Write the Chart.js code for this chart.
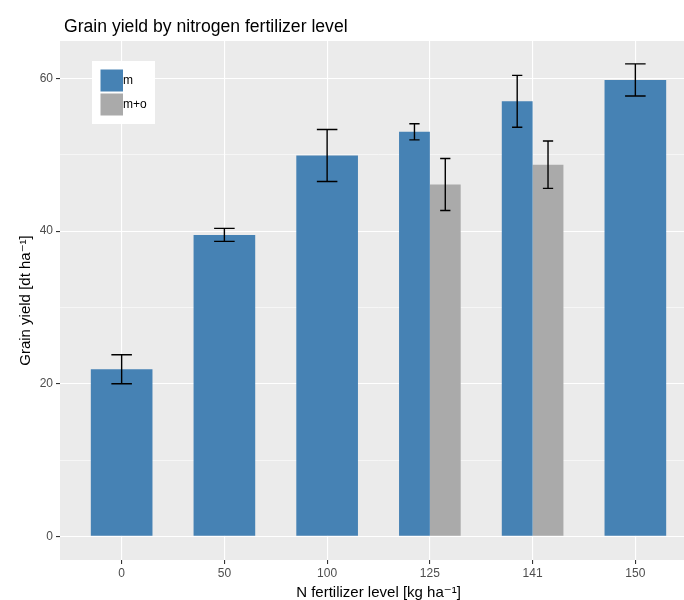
<!DOCTYPE html>
<html>
<head>
<meta charset="utf-8">
<script src="https://cdn.jsdelivr.net/npm/chart.js@4.4.0/dist/chart.umd.min.js"></script>
<style>
    body { margin: 0; background: #ffffff; }
    #wrap { width: 684px; height: 600px; overflow: hidden; }
</style>
</head>
<body>
<div id="wrap"><canvas id="yieldChart" width="700" height="600"></canvas></div>
<script>
// N levels (x categories)
const nLevels = ['0', '50', '100', '125', '141', '150'];

// mineral fertilizer only (m)
const yieldM = [21.9, 39.5, 49.9, 53.0, 57.0, 59.8];
const errM = [1.9, 0.85, 3.4, 1.05, 3.4, 2.1];

// mineral + organic (m+o)
const yieldMO = [null, null, null, 46.1, 48.7, null];
const errMO = [null, null, null, 3.4, 3.1, null];

const yTicks = [0, 10, 20, 30, 40, 50, 60];

document.addEventListener("DOMContentLoaded", function () {
    const fontFamily = "'Liberation Sans', Arial, 'DejaVu Sans', sans-serif";

    function toPoints(values) {
        return values.map((v, i) => ({ x: i, y: v }));
    }

    // grey panel behind the grid
    const panelPlugin = {
        id: 'panel',
        beforeDraw(chart) {
            const { ctx, chartArea } = chart;
            ctx.save();
            ctx.fillStyle = '#EBEBEB';
            ctx.fillRect(chartArea.left, chartArea.top, chartArea.right - chartArea.left, chartArea.bottom - chartArea.top);
            ctx.restore();
        }
    };

    // error bars drawn on top of every bar
    const errorBarPlugin = {
        id: 'errorBars',
        afterDatasetsDraw(chart) {
            const ctx = chart.ctx;
            const yScale = chart.scales.y;
            chart.data.datasets.forEach((ds, i) => {
                const meta = chart.getDatasetMeta(i);
                meta.data.forEach((bar, j) => {
                    const v = ds.data[j].y;
                    const e = ds.errors[j];
                    if (v === null || e === null) return;
                    const top = yScale.getPixelForValue(v + e);
                    const bottom = yScale.getPixelForValue(v - e);
                    const half = bar.width / 6;
                    ctx.save();
                    ctx.strokeStyle = '#000000';
                    ctx.lineWidth = 1.4;
                    ctx.beginPath();
                    ctx.moveTo(bar.x, top);
                    ctx.lineTo(bar.x, bottom);
                    ctx.moveTo(bar.x - half, top);
                    ctx.lineTo(bar.x + half, top);
                    ctx.moveTo(bar.x - half, bottom);
                    ctx.lineTo(bar.x + half, bottom);
                    ctx.stroke();
                    ctx.restore();
                });
            });
        }
    };

    // plot title and legend box inside the panel
    const decorPlugin = {
        id: 'decor',
        afterDraw(chart) {
            const { ctx, chartArea } = chart;
            const left = chartArea.left;
            const top = chartArea.top;
            ctx.save();
            ctx.fillStyle = '#000000';
            ctx.font = "17.6px " + fontFamily;
            ctx.textBaseline = 'alphabetic';
            ctx.textAlign = 'left';
            ctx.fillText('Grain yield by nitrogen fertilizer level', left + 4, 31.5);

            ctx.fillStyle = '#FFFFFF';
            ctx.fillRect(left + 32, top + 20, 63, 63);
            chart.data.datasets.forEach((ds, i) => {
                const ky = top + 28.5 + i * 24;
                ctx.fillStyle = ds.backgroundColor;
                ctx.fillRect(left + 40.5, ky, 22.5, 22);
                ctx.fillStyle = '#000000';
                ctx.font = "12px " + fontFamily;
                ctx.textBaseline = 'middle';
                ctx.fillText(ds.label, left + 63, ky + 11.5);
            });
            ctx.restore();
        }
    };

    const ctx = document.getElementById("yieldChart");
    new Chart(ctx, {
        type: 'bar',
        data: {
            datasets: [
                {
                    label: 'm',
                    data: toPoints(yieldM),
                    errors: errM,
                    backgroundColor: '#4682B4',
                    borderWidth: 0,
                    skipNull: true
                },
                {
                    label: 'm+o',
                    data: toPoints(yieldMO),
                    errors: errMO,
                    backgroundColor: '#AAAAAA',
                    borderWidth: 0,
                    skipNull: true
                }
            ]
        },
        options: {
            responsive: false,
            animation: false,
            devicePixelRatio: 1,
            categoryPercentage: 0.6,
            barPercentage: 1.0,
            layout: { padding: { top: 41, right: 3, bottom: 0, left: 0 } },
            plugins: {
                legend: { display: false },
                title: { display: false },
                tooltip: { enabled: false }
            },
            scales: {
                x: {
                    type: 'linear',
                    min: -0.6,
                    max: 5.6,
                    offset: false,
                    afterBuildTicks: scale => { scale.ticks = nLevels.map((l, i) => ({ value: i })); },
                    afterFit: scale => { scale.height = 40; },
                    border: { display: false },
                    grid: { offset: false, color: '#FFFFFF', lineWidth: 1.1, tickColor: '#333333', tickLength: 4 },
                    ticks: {
                        autoSkip: false,
                        maxRotation: 0,
                        padding: 2,
                        color: '#4D4D4D',
                        font: { family: fontFamily, size: 12 },
                        callback: v => nLevels[v]
                    },
                    title: {
                        display: true,
                        text: 'N fertilizer level [kg ha⁻¹]',
                        color: '#000000',
                        font: { family: fontFamily, size: 15, lineHeight: 1 },
                        padding: { top: 0, bottom: 0 }
                    }
                },
                y: {
                    min: -3.09,
                    max: 64.9,
                    afterBuildTicks: scale => { scale.ticks = yTicks.map(v => ({ value: v })); },
                    afterFit: scale => { scale.width = 60; },
                    border: { display: false },
                    grid: {
                        color: '#FFFFFF',
                        lineWidth: c => (c.tick && c.tick.value % 20 === 0) ? 1.1 : 0.55,
                        tickColor: c => (c.tick && c.tick.value % 20 === 0) ? '#333333' : 'rgba(0,0,0,0)',
                        tickLength: 4
                    },
                    ticks: {
                        autoSkip: false,
                        padding: 3,
                        color: '#4D4D4D',
                        font: { family: fontFamily, size: 12 },
                        callback: v => (v % 20 === 0) ? v : ''
                    },
                    title: {
                        display: true,
                        text: 'Grain yield [dt ha⁻¹]',
                        color: '#000000',
                        font: { family: fontFamily, size: 15, lineHeight: 1 },
                        padding: { top: 18, bottom: 0 }
                    }
                }
            }
        },
        plugins: [panelPlugin, errorBarPlugin, decorPlugin]
    });
});
</script>
</body>
</html>
